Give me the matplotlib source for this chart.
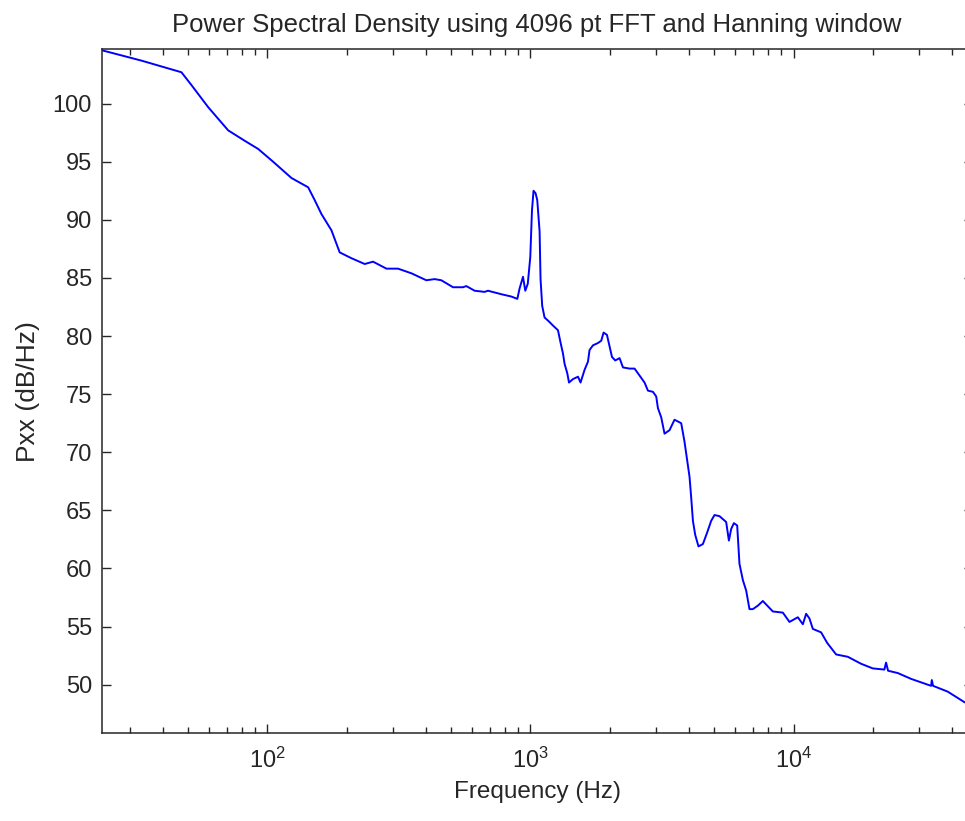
import matplotlib

matplotlib.use("Agg")
import matplotlib.pyplot as plt
from matplotlib.ticker import LogLocator, MultipleLocator, NullFormatter

# Frequency (Hz) and PSD (dB/Hz)
FREQ_HZ = [
    23.4, 33.2, 47.1, 51.4, 59.5, 70.9, 82.0, 92.2, 105.1, 123.4,
    142.8, 151.2, 160.4, 175.1, 188.2, 208.5, 234.2, 252.1, 283.3, 313.7,
    352.5, 401.8, 432.1, 458.2, 507.6, 554.0, 570.3, 613.3, 669.2, 689.4,
    774.7, 845.6, 891.2, 909.1, 936.5, 955.4, 976.5, 998.2, 1013, 1027,
    1045, 1061, 1083, 1092, 1108, 1131, 1182, 1218, 1272, 1302,
    1329, 1348, 1380, 1401, 1451, 1516, 1550, 1606, 1654, 1677,
    1728, 1805, 1858, 1896, 1953, 1998, 2041, 2100, 2181, 2247,
    2380, 2487, 2598, 2714, 2796, 2921, 3006, 3051, 3141, 3233,
    3378, 3528, 3741, 3851, 3942, 4023, 4083, 4145, 4228, 4352,
    4523, 4696, 4864, 5007, 5231, 5545, 5679, 5794, 5933, 6106,
    6230, 6418, 6606, 6800, 7004, 7317, 7645, 8343, 9108, 9650,
    10385, 10850, 11168, 11494, 11843, 12733, 13420, 14520, 16080, 18060,
    20010, 22150, 22480, 22880, 24910, 27980, 33340, 33550, 33920, 38570,
    44600, 48000,
]
PSD_DB = [
    104.6, 103.7, 102.7, 101.6, 99.7, 97.7, 96.8, 96.1, 95.0, 93.6,
    92.8, 91.7, 90.5, 89.1, 87.2, 86.7, 86.2, 86.4, 85.8, 85.8,
    85.4, 84.8, 84.9, 84.8, 84.2, 84.2, 84.3, 83.9, 83.8, 83.9,
    83.6, 83.4, 83.2, 84.1, 85.1, 83.9, 84.5, 86.8, 90.8, 92.5,
    92.3, 91.7, 89.0, 84.9, 82.6, 81.6, 81.2, 80.9, 80.5, 79.4,
    78.5, 77.6, 76.8, 76.0, 76.3, 76.5, 76.0, 77.1, 77.8, 78.8,
    79.2, 79.4, 79.6, 80.3, 80.1, 79.1, 78.2, 77.9, 78.1, 77.3,
    77.2, 77.2, 76.6, 76.0, 75.3, 75.2, 74.8, 73.8, 73.0, 71.6,
    71.9, 72.8, 72.5, 70.9, 69.3, 67.9, 66.1, 64.1, 62.9, 61.9,
    62.1, 63.1, 64.1, 64.6, 64.5, 64.0, 62.4, 63.4, 63.9, 63.7,
    60.4, 59.0, 58.1, 56.5, 56.5, 56.8, 57.2, 56.3, 56.2, 55.4,
    55.8, 55.2, 56.1, 55.7, 54.8, 54.5, 53.6, 52.6, 52.4, 51.8,
    51.4, 51.3, 51.9, 51.2, 51.0, 50.5, 49.9, 50.4, 49.9, 49.4,
    48.5, 48.2,
]

X_LIMITS = (23.4375, 48000)
Y_LIMITS = (45.8, 104.7)

plt.rcParams.update(
    {
        "font.family": ["Liberation Sans", "DejaVu Sans"],
        "mathtext.fontset": "custom",
        "mathtext.rm": "Liberation Sans",
        "mathtext.it": "Liberation Sans:italic",
        "mathtext.bf": "Liberation Sans:bold",
    }
)

fig = plt.figure(figsize=(9.65, 8.21), dpi=100)
fig.patch.set_facecolor("white")
ax = fig.add_axes([0.1054, 0.1066, 0.9026, 0.8337])

ax.semilogx(FREQ_HZ, PSD_DB, color="#0000ff", linewidth=1.4)

ax.set_xlim(*X_LIMITS)
ax.set_ylim(*Y_LIMITS)

ax.xaxis.set_major_locator(LogLocator(base=10, numticks=10))
ax.xaxis.set_minor_locator(LogLocator(base=10, subs=range(2, 10), numticks=20))
ax.xaxis.set_minor_formatter(NullFormatter())
ax.yaxis.set_major_locator(MultipleLocator(5))

ax.tick_params(which="both", direction="in", top=True, right=True, colors="#262626")
ax.tick_params(which="major", length=6.5, width=1.0, labelsize=17, labelcolor="#262626")
ax.tick_params(which="minor", length=4.2, width=1.0)
ax.tick_params(axis="x", which="major", pad=10)
ax.tick_params(axis="y", which="major", pad=7)

for spine in ax.spines.values():
    spine.set_linewidth(1.1)
    spine.set_color("#262626")

ax.set_title(
    "Power Spectral Density using 4096 pt FFT and Hanning window",
    fontsize=18.5,
    color="#262626",
    pad=12,
)
ax.set_xlabel("Frequency (Hz)", fontsize=17.5, color="#262626", labelpad=6)
ax.set_ylabel("Pxx (dB/Hz)", fontsize=19, color="#262626", labelpad=9)

fig.savefig("out.png", dpi=100, facecolor="white")
